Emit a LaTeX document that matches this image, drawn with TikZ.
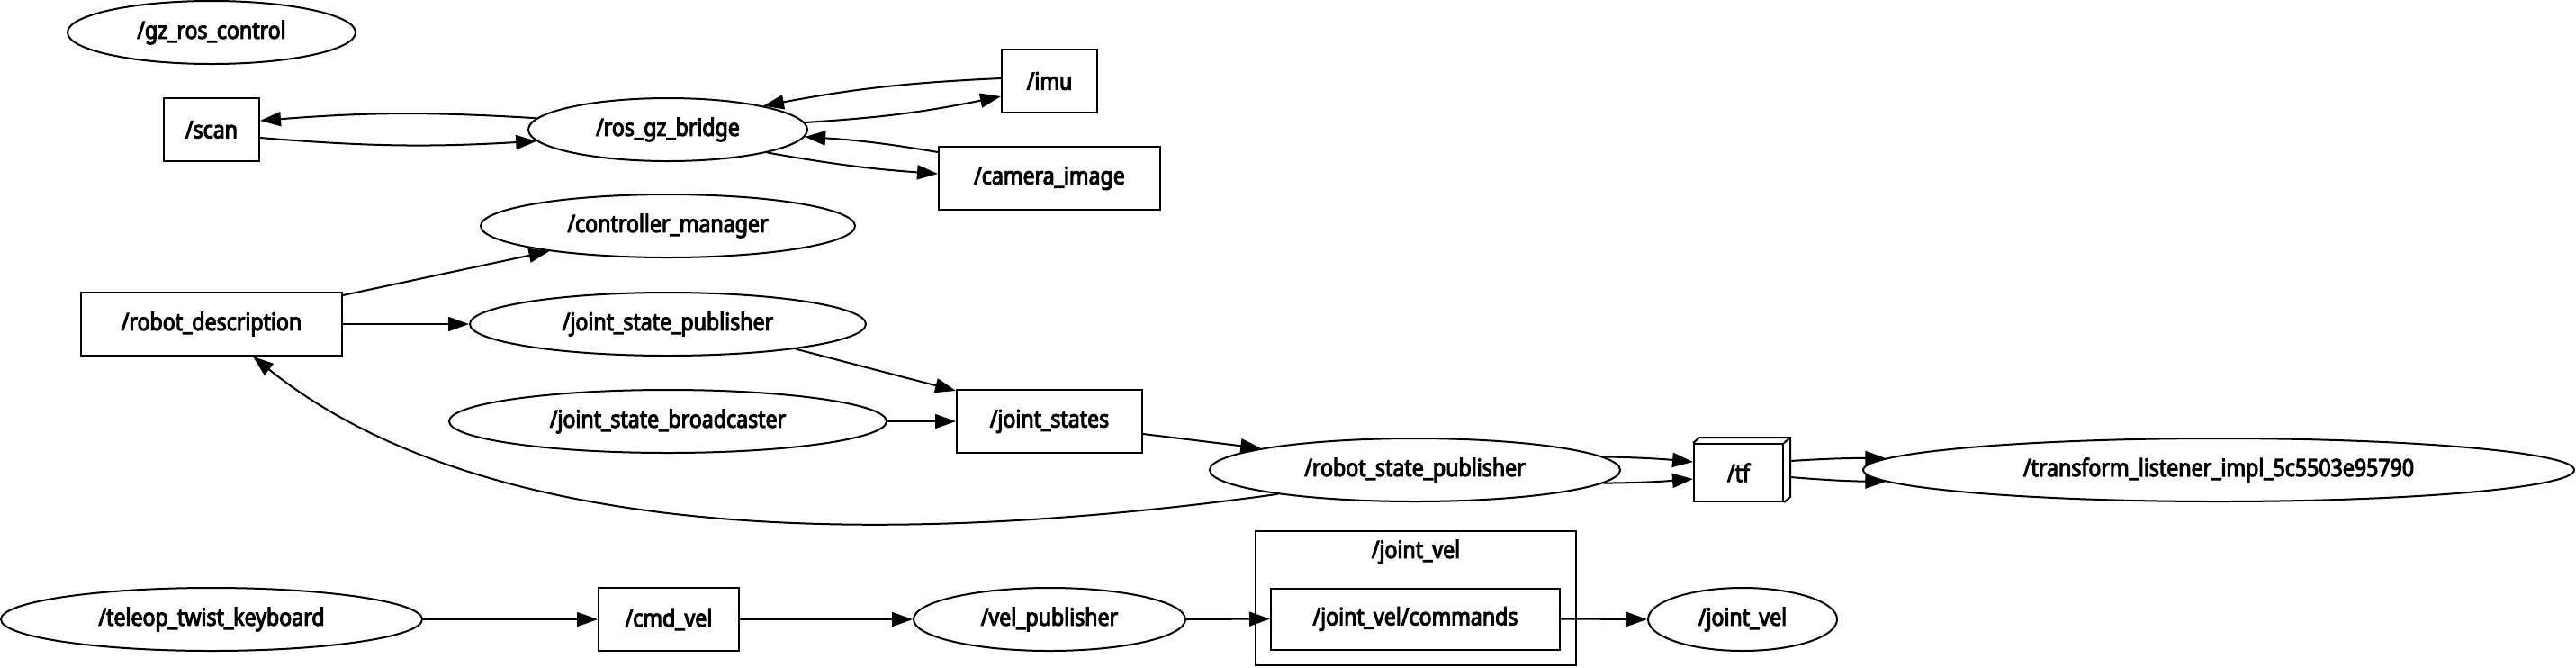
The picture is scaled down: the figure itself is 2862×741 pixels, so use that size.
\documentclass[tikz,border=0pt]{standalone}
\usepackage{fontspec}
\newfontfamily\lblfont{Noto Sans}[FakeStretch=0.87, FakeBold=4]
\usetikzlibrary{arrows.meta,shapes.geometric}
\begin{document}
\begin{tikzpicture}[x=0.5pt,y=-0.5pt,
  every node/.style={font=\lblfont\fontsize{13.3}{15}\selectfont, line width=1pt, inner sep=0pt},
  topic/.style={draw, rectangle, minimum height=35pt},
  rosnode/.style={draw, ellipse, minimum height=35pt},
  conn/.style={-{Triangle[length=11.5pt,width=8pt]}, line width=1pt},
  frame/.style={line width=1pt}]
\useasboundingbox (0,0) rectangle (2862,741);
% nodes
\node[rosnode, minimum width=160pt] (gz) at (235,36) {/gz\_ros\_control};
\node[topic, minimum width=53pt] (scan) at (235,144) {/scan};
\node[rosnode, minimum width=155pt] (bridge) at (742,144) {/ros\_gz\_bridge};
\node[topic, minimum width=53pt] (imu) at (1166,90) {/imu};
\node[topic, minimum width=123pt] (camera) at (1166,198) {/camera\_image};
\node[rosnode, minimum width=208pt] (cm) at (742,251) {/controller\_manager};
\node[topic, minimum width=145pt] (rd) at (235,360) {/robot\_description};
\node[rosnode, minimum width=220pt] (jsp) at (742,360) {/joint\_state\_publisher};
\node[rosnode, minimum width=243pt] (jsb) at (742,468) {/joint\_state\_broadcaster};
\node[topic, minimum width=103pt] (js) at (1166,468) {/joint\_states};
\node[rosnode, minimum width=228pt] (rsp) at (1572,522) {/robot\_state\_publisher};
\node[draw, rectangle, minimum width=49.5pt, minimum height=32pt] (tf) at (1931.5,525) {/tf};
\node[rosnode, minimum width=395pt] (tl) at (2465,522) {/transform\_listener\_impl\_5c5503e95790};
\node[rosnode, minimum width=234pt] (teleop) at (235,688) {/teleop\_twist\_keyboard};
\node[topic, minimum width=78pt] (cmd) at (743,688) {/cmd\_vel};
\node[rosnode, minimum width=151pt] (velpub) at (1166,688) {/vel\_publisher};
\node[draw, rectangle, minimum width=178pt, minimum height=74.5pt] (cluster) at (1573,664.5) {};
\node (clabel) at (1573,613) {/joint\_vel};
\node[topic, minimum width=160.5pt, minimum height=34pt] (cmds) at (1572.5,687.5) {/joint\_vel/commands};
\node[rosnode, minimum width=105pt] (jv) at (1936,688) {/joint\_vel};
% 3d box decoration of /tf
\draw[frame] (tf.north west) -- ++(3.5pt,3pt) -- ([xshift=3.5pt,yshift=3pt]tf.north east)
  -- ([xshift=3.5pt,yshift=3pt]tf.south east) -- (tf.south east);
\draw[frame] (tf.north east) -- ++(3.5pt,3pt);
% connectors
\draw[conn] (bridge.175) to[bend right=4] ([yshift=5pt]scan.east);
\draw[conn] ([yshift=-4.5pt]scan.east) to[bend right=4] (bridge.185);
\draw[conn] ([yshift=1.5pt]imu.west) to[bend right=4] (bridge.14);
\draw[conn] (bridge.3) to[bend right=4] ([yshift=-8.5pt]imu.west);
\draw[conn] ([yshift=14.5pt]camera.west) to[bend right=3] (bridge.-3);
\draw[conn] (bridge.-13) to[bend right=3] ([yshift=2.5pt]camera.west);
\draw[conn] ([yshift=-2pt]rd.north east) -- (cm.192);
\draw[conn] (rd.east) -- (jsp.west);
\draw[conn] (jsp.-11) -- ([yshift=-1pt]js.north west);
\draw[conn] (jsb.east) -- (js.west);
\draw[conn] ([yshift=-7pt]js.east) -- (rsp.172);
\draw[conn] (rsp.4) to[bend left=2] ([yshift=6pt]tf.west);
\draw[conn] (rsp.-4) to[bend right=2] ([yshift=-3.5pt]tf.west);
\draw[conn] ([xshift=3.5pt,yshift=6.5pt]tf.east) to[bend left=2] (tl.178);
\draw[conn] ([xshift=3.5pt,yshift=-2.5pt]tf.east) to[bend right=2] (tl.182);
\draw[conn] (rsp.190) .. controls (1050,600) and (560,620) .. ([xshift=23pt]rd.south);
\draw[conn] (teleop.east) -- (cmd.west);
\draw[conn] (cmd.east) -- (velpub.west);
\draw[conn] (velpub.east) -- (cmds.west);
\draw[conn] (cmds.east) -- (jv.west);
\end{tikzpicture}
\end{document}
